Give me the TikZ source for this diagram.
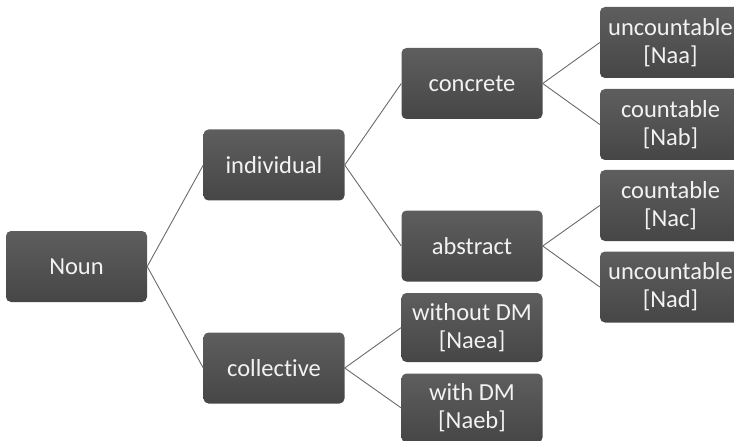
\documentclass[tikz,border=0pt]{standalone}
\usepackage{fontspec}
\setmainfont[Ligatures={NoCommon}]{Carlito}
\begin{document}
\begin{tikzpicture}[x=1pt,y=-1pt,
  box/.style={rounded corners=5pt, top color=boxtop, bottom color=boxbot, draw=none,
    minimum width=141pt, minimum height=71pt, text=boxtext, align=center,
    font=\fontsize{24.5}{28}\selectfont, inner sep=0pt},
  link/.style={draw=linkc, line width=0.9pt}]
\definecolor{boxtop}{HTML}{5E5E5E}
\definecolor{boxbot}{HTML}{464646}
\definecolor{boxtext}{HTML}{F2F2F2}
\definecolor{linkc}{HTML}{6A6A6A}
\useasboundingbox (0,0) rectangle (734,441);
\begin{scope}
\clip (0,0) rectangle (734,441);
\node[box] (noun) at (76.5,266.5) {Noun};
\node[box] (ind) at (274,165) {individual};
\node[box] (col) at (274,368) {collective};
\node[box] (con) at (472,83.5) {concrete};
\node[box] (abs) at (472,246) {abstract};
\node[box, minimum height=69pt] (wo) at (472,327.5) {without DM\\{}[Naea]};
\node[box, minimum height=69pt] (wi) at (472,408) {with DM\\{}[Naeb]};
\node[box] (naa) at (670.5,42.5) {uncountable\\{}[Naa]};
\node[box] (nab) at (670.5,124.5) {countable\\{}[Nab]};
\node[box] (nac) at (670.5,205.5) {countable\\{}[Nac]};
\node[box] (nad) at (670.5,287) {uncountable\\{}[Nad]};
\draw[link] (noun.east) -- (ind.west);
\draw[link] (noun.east) -- (col.west);
\draw[link] (ind.east) -- (con.west);
\draw[link] (ind.east) -- (abs.west);
\draw[link] (col.east) -- (wo.west);
\draw[link] (col.east) -- (wi.west);
\draw[link] (con.east) -- (naa.west);
\draw[link] (con.east) -- (nab.west);
\draw[link] (abs.east) -- (nac.west);
\draw[link] (abs.east) -- (nad.west);
\end{scope}
\end{tikzpicture}
\end{document}
